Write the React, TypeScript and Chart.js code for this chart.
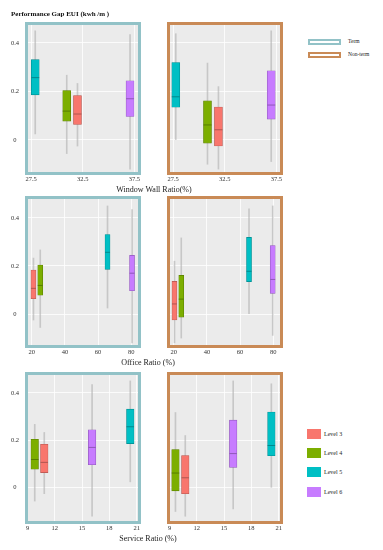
import React, { useEffect, useRef } from "react";
import { Chart, registerables } from "chart.js";

Chart.register(...registerables);

const FONT = '"Liberation Serif", "Times New Roman", serif';
Chart.defaults.font.family = FONT;

// ---- data ----
const levels = ["Level 3", "Level 4", "Level 5", "Level 6"];
const levelColors = ["#F8766D", "#7CAE00", "#00BFC4", "#C77CFF"];
const levelDark = ["#b0554f", "#577d00", "#00898d", "#8f58b8"];
const groups = ["Term", "Non-term"];
const groupColors = ["#92c2c7", "#c98a56"];

// box statistics per level: [min, q1, median, q3, max]
const termStats = [
  [-0.025, 0.064, 0.107, 0.183, 0.233],
  [-0.056, 0.078, 0.119, 0.204, 0.267],
  [0.025, 0.186, 0.257, 0.331, 0.45],
  [-0.12, 0.097, 0.17, 0.244, 0.435],
];
const nonTermStats = [
  [-0.12, -0.025, 0.042, 0.136, 0.22],
  [-0.1, -0.013, 0.062, 0.161, 0.317],
  [0.0, 0.135, 0.178, 0.319, 0.438],
  [-0.089, 0.086, 0.144, 0.285, 0.45],
];

// x position (group value) of each level's box
const wwrTermX = [31.99, 30.95, 27.9, 37.08];
const wwrNonTermX = [31.89, 30.83, 27.76, 37.0];
const officeTermX = [21.0, 25.1, 65.7, 80.5];
const officeNonTermX = [20.4, 24.5, 65.4, 79.7];
const serviceTermX = [10.84, 9.79, 20.3, 16.1];
const serviceNonTermX = [10.73, 9.65, 20.2, 16.0];

const wwrTicks = [27.5, 32.5, 37.5];
const officeTicks = [20, 40, 60, 80];
const serviceTicks = [9, 12, 15, 18, 21];
const yTicks = [0, 0.2, 0.4];

const titleText = "Performance Gap EUI (kwh /m )";
const axisTitles = ["Window Wall Ratio(%)", "Office Ratio (%)", "Service Ratio (%)"];

// ---- layout ----
type Area = { l: number; t: number; r: number; b: number };
type Spec = {
  key: string;
  left: boolean;
  stats: number[][];
  xs: number[];
  ticks: number[];
  xMin: number;
  xMax: number;
  yMin: number;
  yMax: number;
  boxW: number;
  frame: string;
  ca: Area;
};

const rowsGeom = [
  { t: 25, b: 172, xMin: 27.2, xMax: 37.85, yMin: -0.132, yMax: 0.474, boxW: 8, ticks: wwrTicks, xs: [wwrTermX, wwrNonTermX] },
  { t: 199, b: 345, xMin: 17.7, xMax: 84.1, yMin: -0.129, yMax: 0.479, boxW: 5, ticks: officeTicks, xs: [officeTermX, officeNonTermX] },
  { t: 375, b: 521, xMin: 9.05, xMax: 21.15, yMin: -0.14, yMax: 0.475, boxW: 7.5, ticks: serviceTicks, xs: [serviceTermX, serviceNonTermX] },
];

const specs: Spec[] = [];
rowsGeom.forEach((rg, ri) => {
  [0, 1].forEach((gi) => {
    specs.push({
      key: `r${ri}g${gi}`,
      left: gi === 0,
      stats: gi === 0 ? termStats : nonTermStats,
      xs: rg.xs[gi],
      ticks: rg.ticks,
      xMin: rg.xMin,
      xMax: rg.xMax,
      yMin: rg.yMin,
      yMax: rg.yMax,
      boxW: rg.boxW,
      frame: groupColors[gi],
      ca: gi === 0 ? { l: 28, t: rg.t, r: 138, b: rg.b } : { l: 170, t: rg.t, r: 280, b: rg.b },
    });
  });
});

function Panel({ spec }: { spec: Spec }) {
  const ref = useRef<HTMLCanvasElement>(null);
  const padT = 16,
    padR = 10,
    padB = 2,
    axisH = 12;
  const padL = spec.left ? 0 : 10;
  const canvasLeft = spec.left ? 0 : spec.ca.l - padL;
  const canvasTop = spec.ca.t - padT;
  const width = spec.ca.r + padR - canvasLeft;
  const height = spec.ca.b + axisH + padB - canvasTop;

  useEffect(() => {
    if (!ref.current) return;
    const datasets: any[] = [];
    spec.stats.forEach((s, i) => {
      datasets.push({
        type: "bar",
        label: levels[i] + " whisker",
        data: [{ x: spec.xs[i], y: [s[0], s[4]] }],
        backgroundColor: "rgba(175,175,175,0.6)",
        borderWidth: 0,
        barThickness: 1,
        grouped: false,
        order: 3,
      });
      datasets.push({
        type: "bar",
        label: levels[i],
        data: [{ x: spec.xs[i], y: [s[1], s[3]] }],
        backgroundColor: levelColors[i],
        borderColor: levelDark[i],
        borderWidth: 0.6,
        borderSkipped: false,
        barThickness: spec.boxW,
        grouped: false,
        order: 2,
      });
      datasets.push({
        type: "scatter",
        label: levels[i] + " median",
        data: [{ x: spec.xs[i], y: s[2] }],
        pointStyle: "line",
        pointRadius: spec.boxW / 2,
        borderColor: levelDark[i],
        backgroundColor: levelDark[i],
        borderWidth: 1,
        order: 1,
      });
    });

    const framePlugin = {
      id: "frame",
      beforeDraw(chart: any) {
        const { ctx, chartArea } = chart;
        const { left, top, right, bottom } = chartArea;
        ctx.save();
        ctx.fillStyle = "#EBEBEB";
        ctx.fillRect(left, top, right - left, bottom - top);
        ctx.restore();
      },
      afterDraw(chart: any) {
        const { ctx, chartArea } = chart;
        const { left, top, right, bottom } = chartArea;
        ctx.save();
        ctx.strokeStyle = spec.frame;
        ctx.lineWidth = 3;
        ctx.strokeRect(left - 1.5, top - 1.5, right - left + 3, bottom - top + 3);
        ctx.restore();
      },
    };

    const tickFont = { family: FONT, size: 6.5 };
    const chart = new Chart(ref.current, {
      type: "bar",
      data: { datasets },
      options: {
        animation: false,
        responsive: false,
        events: [],
        layout: { padding: { left: padL, top: padT, right: padR, bottom: padB } },
        plugins: { legend: { display: false }, tooltip: { enabled: false } },
        scales: {
          x: {
            type: "linear",
            min: spec.xMin,
            max: spec.xMax,
            offset: false,
            grid: { color: "#ffffff", lineWidth: 0.8, offset: false, drawTicks: false },
            border: { display: false },
            ticks: {
              font: tickFont,
              color: "#333333",
              padding: 3,
              maxRotation: 0,
              autoSkip: false,
              callback: (v: any) => String(v),
            },
            afterBuildTicks: (s: any) => {
              s.ticks = spec.ticks.map((v) => ({ value: v }));
            },
            afterFit: (s: any) => {
              s.height = axisH;
            },
          },
          y: {
            type: "linear",
            min: spec.yMin,
            max: spec.yMax,
            grid: { color: "#ffffff", lineWidth: 0.8, drawTicks: false },
            border: { display: false },
            ticks: {
              display: spec.left,
              font: tickFont,
              color: "#333333",
              padding: 9,
              crossAlign: "center",
              callback: (v: any) => String(v),
            },
            afterBuildTicks: (s: any) => {
              s.ticks = yTicks.map((v) => ({ value: v }));
            },
            afterFit: (s: any) => {
              s.width = spec.left ? spec.ca.l : 0;
            },
          },
        },
      } as any,
      plugins: [framePlugin],
    });
    return () => chart.destroy();
  }, []);

  return (
    <canvas
      ref={ref}
      width={width}
      height={height}
      style={{ position: "absolute", left: canvasLeft, top: canvasTop, width, height }}
    />
  );
}

const textBase: React.CSSProperties = {
  position: "absolute",
  fontFamily: FONT,
  whiteSpace: "nowrap",
  lineHeight: 1,
  color: "#222",
};

export default function App() {
  const axisTitlePos = [
    { x: 154, y: 190 },
    { x: 148, y: 363 },
    { x: 148, y: 539 },
  ];
  const levelLegendTops = [429, 448, 467, 487];
  return (
    <div
      style={{
        position: "absolute",
        left: 0,
        top: 0,
        width: 383,
        height: 550,
        background: "#ffffff",
        overflow: "hidden",
      }}
    >
      {specs.map((s) => (
        <Panel key={s.key} spec={s} />
      ))}
      <div style={{ ...textBase, left: 11, top: 14, fontSize: 7, fontWeight: "bold", color: "#111", transform: "translateY(-50%)" }}>
        {titleText}
      </div>
      {axisTitles.map((t, i) => (
        <div
          key={t}
          style={{
            ...textBase,
            left: axisTitlePos[i].x,
            top: axisTitlePos[i].y,
            fontSize: 8,
            transform: "translate(-50%, -50%)",
          }}
        >
          {t}
        </div>
      ))}
      {groups.map((g, i) => (
        <React.Fragment key={g}>
          <div
            style={{
              position: "absolute",
              left: 308,
              top: 39 + i * 13,
              width: 33,
              height: 6,
              boxSizing: "border-box",
              border: `2px solid ${groupColors[i]}`,
              background: "#fff",
            }}
          />
          <div style={{ ...textBase, left: 348, top: 41.5 + i * 13, fontSize: 5.5, transform: "translateY(-50%)" }}>
            {g}
          </div>
        </React.Fragment>
      ))}
      {levels.map((l, i) => (
        <React.Fragment key={l}>
          <div
            style={{
              position: "absolute",
              left: 307,
              top: levelLegendTops[i],
              width: 14,
              height: 10,
              background: levelColors[i],
            }}
          />
          <div
            style={{
              ...textBase,
              left: 324,
              top: levelLegendTops[i] + 5,
              fontSize: 6,
              transform: "translateY(-50%)",
            }}
          >
            {l}
          </div>
        </React.Fragment>
      ))}
    </div>
  );
}
